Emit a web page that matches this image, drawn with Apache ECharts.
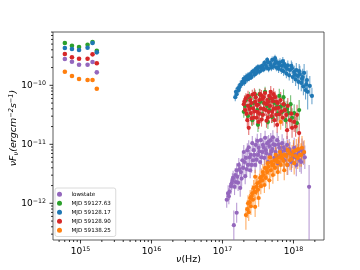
<!DOCTYPE html>
<html><head><meta charset="utf-8">
<script src="https://cdn.jsdelivr.net/npm/echarts@6/dist/echarts.min.js"></script>
<style>html,body{margin:0;padding:0;background:#fff}#c{width:360px;height:270px}</style>
</head><body><div id="c"></div>
<script>
// Legend / series
const seriesNames = ['lowstate', 'MJD 59127.63', 'MJD 59128.17', 'MJD 59128.90', 'MJD 59138.25'];
const seriesColors = ['#9467bd', '#2ca02c', '#1f77b4', '#d62728', '#ff7f0e'];

// Axis ranges (log10)
const xRangeLog = [14.613, 18.43];
const yRangeLog = [-12.622, -9.096];

// Optical/UV points: log10(nu [Hz]) and log10(nuFnu)
const opticalLogNu = [14.78, 14.88, 14.98, 15.10, 15.17, 15.23];
const opticalLowstate = [-9.554, -9.600, -9.651, -9.651, -9.605, -9.780];
const optical12763 = [-9.283, -9.329, -9.351, -9.312, -9.266, -9.414];
const optical12817 = [-9.368, -9.385, -9.402, -9.363, -9.283, -9.441];
const optical12890 = [-9.469, -9.525, -9.549, -9.549, -9.475, -9.627];
const optical13825 = [-9.770, -9.842, -9.893, -9.910, -9.910, -10.058];

// X-ray points: [log10 nu, log10 nuFnu, err up (dex), err down (dex, optional)]
const xrayLowstate = [
[17.06,-11.94,0.135],[17.08,-11.83,0.135],[17.09,-11.88,0.135],[17.12,-11.71,0.135],[17.13,-11.66,0.12],
[17.15,-11.57,0.12],[17.16,-12.37,0.25,0.6],[17.18,-11.52,0.12],[17.19,-11.64,0.12],[17.20,-12.16,0.17],
[17.20,-11.44,0.12],[17.23,-11.35,0.12],[17.25,-11.74,0.15],[17.26,-11.47,0.12],[17.28,-11.27,0.12],
[17.29,-11.40,0.12],[17.30,-11.13,0.12],[17.32,-11.54,0.135],[17.33,-11.23,0.12],[17.35,-11.10,0.12],
[17.36,-11.35,0.12],[17.37,-11.05,0.12],[17.39,-11.44,0.135],[17.40,-11.18,0.12],[17.42,-10.98,0.12],
[17.43,-11.27,0.12],[17.44,-11.10,0.12],[17.46,-11.35,0.135],[17.47,-11.01,0.12],[17.49,-10.94,0.12],
[17.50,-11.18,0.12],[17.51,-11.06,0.12],[17.53,-11.30,0.135],[17.54,-10.93,0.12],[17.56,-11.13,0.12],
[17.57,-11.01,0.12],[17.59,-11.23,0.135],[17.60,-10.89,0.12],[17.61,-11.10,0.12],[17.63,-10.98,0.12],
[17.64,-11.30,0.135],[17.66,-11.03,0.12],[17.67,-11.18,0.135],[17.68,-10.93,0.12],[17.70,-11.08,0.135],
[17.71,-10.88,0.12],[17.73,-11.23,0.135],[17.74,-11.01,0.135],[17.75,-11.13,0.135],[17.77,-10.93,0.135],
[17.78,-11.32,0.15],[17.80,-11.06,0.135],[17.82,-11.18,0.15],[17.84,-10.98,0.15],[17.87,-11.27,0.15],
[17.88,-11.10,0.15],[17.91,-11.01,0.15],[17.92,-11.35,0.17],[17.95,-11.13,0.17],[17.98,-11.23,0.17],
[18.01,-11.06,0.17],[18.04,-11.35,0.19],[18.06,-11.18,0.19],[18.09,-11.27,0.2],[18.12,-11.10,0.2],
[18.16,-11.22,0.2],[18.22,-11.72,0.37,0.9],
[17.10,-11.80,0.14],[17.14,-11.62,0.13],[17.17,-11.72,0.14],[17.21,-11.55,0.13],[17.22,-11.65,0.14],
[17.24,-11.42,0.12],[17.27,-11.58,0.13],[17.31,-11.30,0.12],[17.34,-11.42,0.13],[17.38,-11.22,0.12],
[17.41,-11.35,0.13],[17.45,-11.18,0.12],[17.48,-11.26,0.13],[17.52,-11.12,0.12],[17.55,-11.22,0.13],
[17.58,-11.05,0.12],[17.62,-11.15,0.13],[17.65,-10.96,0.12],[17.69,-11.12,0.13],[17.72,-11.00,0.13],
[17.76,-11.20,0.14],[17.79,-11.00,0.14],[17.83,-11.12,0.15],[17.86,-11.05,0.15],[17.90,-11.18,0.16],
[17.94,-11.08,0.17],[17.97,-11.30,0.17],[18.00,-11.15,0.18],[18.03,-11.22,0.19],[18.07,-11.12,0.2],
[18.11,-11.30,0.2],[18.14,-11.15,0.2]
];
const xray12763 = [
[17.30,-10.45,0.10],[17.33,-10.25,0.085],[17.36,-10.52,0.10],[17.39,-10.35,0.085],[17.42,-10.59,0.10],
[17.46,-10.16,0.085],[17.49,-10.42,0.10],[17.50,-10.67,0.12],[17.53,-10.28,0.085],[17.56,-10.49,0.10],
[17.60,-10.11,0.085],[17.63,-10.35,0.10],[17.64,-10.62,0.12],[17.67,-10.22,0.10],[17.70,-10.54,0.10],
[17.74,-10.30,0.10],[17.77,-10.37,0.12],[17.80,-10.18,0.12],[17.84,-10.45,0.12],[17.87,-10.33,0.135],
[17.89,-10.59,0.135],[17.93,-10.47,0.135],[17.96,-10.32,0.15],[18.01,-10.47,0.15],[18.05,-10.64,0.17],
[18.08,-10.42,0.17],
[17.32,-10.35,0.1],[17.38,-10.20,0.09],[17.44,-10.30,0.1],[17.52,-10.15,0.09],[17.58,-10.30,0.1],
[17.66,-10.42,0.1],[17.72,-10.28,0.1],[17.78,-10.48,0.12],[17.82,-10.36,0.12],[17.86,-10.20,0.13],
[17.91,-10.40,0.14],[17.98,-10.55,0.16]
];
const xray12817 = [
[17.18,-10.20,0.07],[17.19,-10.11,0.07],[17.22,-10.05,0.07],[17.23,-10.08,0.06],[17.25,-9.99,0.07],
[17.28,-9.94,0.06],[17.30,-9.89,0.06],[17.32,-9.91,0.05],[17.33,-9.86,0.06],[17.36,-9.83,0.05],
[17.39,-9.81,0.05],[17.40,-9.84,0.05],[17.42,-9.77,0.05],[17.44,-9.76,0.05],[17.47,-9.72,0.05],
[17.49,-9.74,0.05],[17.50,-9.69,0.05],[17.53,-9.69,0.05],[17.56,-9.67,0.05],[17.57,-9.71,0.05],
[17.59,-9.62,0.05],[17.61,-9.66,0.05],[17.63,-9.57,0.05],[17.64,-9.61,0.05],[17.67,-9.62,0.05],
[17.68,-9.66,0.05],[17.70,-9.57,0.06],[17.73,-9.64,0.06],[17.74,-9.54,0.06],[17.75,-9.59,0.06],
[17.78,-9.62,0.06],[17.80,-9.67,0.06],[17.81,-9.61,0.07],[17.84,-9.67,0.07],[17.85,-9.59,0.07],
[17.87,-9.64,0.08],[17.89,-9.69,0.08],[17.91,-9.72,0.08],[17.92,-9.66,0.08],[17.95,-9.74,0.09],
[17.97,-9.67,0.09],[17.98,-9.71,0.10],[18.01,-9.77,0.10],[18.02,-9.82,0.10],[18.04,-9.74,0.12],
[18.06,-9.84,0.12],[18.08,-9.76,0.12],[18.09,-9.81,0.14],[18.12,-9.89,0.14],[18.13,-9.86,0.14],
[18.15,-9.79,0.15],[18.18,-9.98,0.15],[18.19,-9.91,0.16],[18.20,-10.11,0.20,0.3],[18.23,-10.01,0.17],
[18.26,-10.18,0.14],
[17.20,-10.15,0.07],[17.24,-10.03,0.06],[17.27,-9.98,0.06],[17.31,-9.95,0.06],[17.35,-9.90,0.05],
[17.38,-9.88,0.05],[17.41,-9.86,0.05],[17.45,-9.82,0.05],[17.48,-9.79,0.05],[17.52,-9.77,0.05],
[17.55,-9.74,0.05],[17.58,-9.73,0.05],[17.62,-9.70,0.05],[17.65,-9.72,0.06],[17.69,-9.70,0.06],
[17.72,-9.68,0.06],[17.76,-9.70,0.06],[17.79,-9.72,0.07],[17.83,-9.74,0.07],[17.86,-9.76,0.08],
[17.90,-9.80,0.08],[17.94,-9.83,0.09],[17.99,-9.86,0.1],[18.03,-9.90,0.11],[18.07,-9.94,0.13],
[18.11,-9.96,0.14],[18.14,-10.02,0.15],[18.17,-10.08,0.16]
];
const xray12890 = [
[17.30,-10.32,0.10],[17.32,-10.42,0.10],[17.33,-10.22,0.085],[17.35,-10.59,0.12],[17.36,-10.35,0.10],
[17.37,-10.72,0.12],[17.39,-10.25,0.085],[17.40,-10.47,0.10],[17.42,-10.16,0.085],[17.43,-10.39,0.10],
[17.44,-10.55,0.12],[17.46,-10.28,0.085],[17.47,-10.20,0.085],[17.49,-10.45,0.10],[17.50,-10.33,0.10],
[17.51,-10.62,0.12],[17.53,-10.15,0.085],[17.54,-10.39,0.10],[17.56,-10.23,0.085],[17.57,-10.50,0.10],
[17.59,-10.30,0.10],[17.60,-10.13,0.085],[17.61,-10.42,0.10],[17.63,-10.25,0.10],[17.64,-10.55,0.12],
[17.66,-10.18,0.10],[17.67,-10.35,0.10],[17.68,-10.11,0.10],[17.70,-10.45,0.12],[17.71,-10.27,0.10],
[17.73,-10.59,0.12],[17.74,-10.20,0.10],[17.75,-10.39,0.12],[17.77,-10.67,0.135],[17.78,-10.30,0.12],
[17.80,-10.49,0.135],[17.82,-10.25,0.135],[17.85,-10.55,0.135],[17.88,-10.42,0.15],[17.91,-10.76,0.15],
[17.92,-10.35,0.135],[17.95,-10.59,0.15],[17.98,-10.72,0.17],[18.01,-10.62,0.17],[18.05,-10.50,0.17],
[18.08,-10.81,0.17],
[17.31,-10.27,0.1],[17.34,-10.48,0.1],[17.36,-10.18,0.09],[17.38,-10.40,0.1],[17.41,-10.30,0.1],
[17.41,-10.56,0.12],[17.45,-10.44,0.1],[17.45,-10.14,0.09],[17.48,-10.33,0.1],[17.48,-10.55,0.12],
[17.52,-10.25,0.1],[17.52,-10.48,0.1],[17.55,-10.17,0.09],[17.55,-10.58,0.12],[17.58,-10.40,0.1],
[17.58,-10.20,0.1],[17.62,-10.32,0.1],[17.62,-10.60,0.12],[17.65,-10.28,0.1],[17.65,-10.45,0.1],
[17.69,-10.22,0.1],[17.69,-10.52,0.12],[17.72,-10.40,0.12],[17.72,-10.15,0.1],[17.76,-10.28,0.12],
[17.76,-10.50,0.12],[17.79,-10.38,0.13],[17.83,-10.44,0.14],[17.86,-10.32,0.14],[17.90,-10.50,0.15],
[17.97,-10.48,0.16],[18.03,-10.70,0.17]
];
const xray13825 = [
[17.33,-12.20,0.135,0.25],[17.36,-12.00,0.135],[17.37,-12.15,0.15],[17.39,-11.91,0.135],[17.40,-12.05,0.15],
[17.42,-11.83,0.135],[17.43,-11.94,0.135],[17.44,-11.74,0.135],[17.46,-12.06,0.17],[17.46,-11.55,0.12],
[17.47,-11.81,0.135],[17.49,-11.66,0.135],[17.50,-11.77,0.135],[17.51,-11.91,0.15],[17.53,-11.57,0.135],
[17.54,-11.71,0.135],[17.56,-11.61,0.135],[17.57,-11.47,0.135],[17.59,-11.69,0.135],[17.60,-11.40,0.135],
[17.61,-11.57,0.135],[17.63,-11.47,0.135],[17.64,-11.32,0.135],[17.66,-11.61,0.15],[17.67,-11.22,0.135],
[17.68,-11.44,0.135],[17.70,-11.35,0.135],[17.71,-11.52,0.15],[17.73,-11.27,0.135],[17.74,-11.40,0.135],
[17.75,-11.18,0.135],[17.77,-11.30,0.15],[17.78,-11.47,0.15],[17.80,-11.22,0.15],[17.81,-11.13,0.15],
[17.82,-11.35,0.15],[17.82,-10.62,0.135],[17.84,-11.23,0.15],[17.87,-11.44,0.17],[17.88,-11.18,0.17],
[17.91,-11.35,0.17],[17.92,-11.10,0.17],[17.95,-11.27,0.17],[17.98,-11.18,0.17],[18.01,-11.32,0.19],
[18.04,-11.10,0.19],[18.06,-11.23,0.19],[18.09,-11.18,0.2],[18.12,-11.06,0.2],[18.15,-11.13,0.2],
[17.35,-12.10,0.15],[17.38,-11.98,0.14],[17.41,-11.88,0.14],[17.45,-11.80,0.14],[17.48,-11.72,0.14],
[17.52,-11.64,0.14],[17.55,-11.55,0.14],[17.58,-11.52,0.14],[17.62,-11.42,0.14],[17.65,-11.38,0.14],
[17.69,-11.30,0.14],[17.72,-11.35,0.15],[17.76,-11.25,0.15],[17.79,-11.30,0.15],[17.83,-11.18,0.16],
[17.86,-11.28,0.17],[17.90,-11.20,0.17],[17.94,-11.15,0.17],[17.97,-11.25,0.18],[18.00,-11.12,0.19],
[18.03,-11.20,0.19],[18.07,-11.08,0.2],[18.11,-11.18,0.2]
];

const opticalSets = [opticalLowstate, optical12763, optical12817, optical12890, optical13825];
const xraySets = [xrayLowstate, xray12763, xray12817, xray12890, xray13825];

const P = v => Math.pow(10, v);
const xMin = P(xRangeLog[0]), xMax = P(xRangeLog[1]);
const yMin = P(yRangeLog[0]), yMax = P(yRangeLog[1]);
const FONT = 'DejaVu Sans';

// tick marks (major + minor) drawn through the axes' scales
const tickData = [];
for (let n = 14; n <= 18; n++) for (let k = 1; k <= 9; k++) {
  const v = k * P(n); if (v >= xMin && v <= xMax) tickData.push([v, yMin, k === 1 ? 3.5 : 2, 0]);
}
for (let n = -13; n <= -10; n++) for (let k = 1; k <= 9; k++) {
  const v = k * P(n); if (v >= yMin && v <= yMax) tickData.push([xMin, v, k === 1 ? 3.5 : 2, 1]);
}

const series = [{
  type: 'custom', name: 'ticks', silent: true, clip: false, z: 10,
  data: tickData,
  renderItem(params, api) {
    const cs = params.coordSys;
    const p = api.coord([api.value(0), api.value(1)]);
    const len = api.value(2);
    const shape = api.value(3) === 0
      ? {x1: p[0], y1: cs.y + cs.height, x2: p[0], y2: cs.y + cs.height + len}
      : {x1: cs.x, y1: p[1], x2: cs.x - len, y2: p[1]};
    return {type: 'line', shape, style: {stroke: '#000', lineWidth: 0.8}};
  }
}];

seriesNames.forEach((name, si) => {
  const color = seriesColors[si];
  const pts = [];
  opticalLogNu.forEach((n, i) => pts.push({nu: n, f: opticalSets[si][i], up: 0.01, dn: 0.01, size: 4.6}));
  xraySets[si].forEach(p => pts.push({nu: p[0], f: p[1], up: p[2], dn: p.length > 3 ? p[3] : p[2], size: 4.2}));
  series.push({
    type: 'custom', name: name + ' err', silent: true, clip: true,
    data: pts.map(p => [P(p.nu), P(p.f), P(p.f - p.dn), P(p.f + p.up)]),
    encode: {x: 0, y: 1},
    renderItem(params, api) {
      const a = api.coord([api.value(0), api.value(2)]);
      const b = api.coord([api.value(0), api.value(3)]);
      return {type: 'line', shape: {x1: a[0], y1: a[1], x2: b[0], y2: b[1]},
        style: {stroke: color, lineWidth: 1.1, opacity: 0.65}};
    }
  });
  series.push({
    type: 'scatter', name,
    data: pts.map(p => ({value: [P(p.nu), P(p.f)], symbolSize: p.size})),
    itemStyle: {color, opacity: 1}
  });
});

const logLabel = v => {
  const l = Math.log10(v), e = Math.round(l);
  if (Math.abs(l - e) > 1e-6) return '';
  return '{b|10}{s|' + (e < 0 ? '\u2212' : '') + Math.abs(e) + '}';
};
const richTicks = {
  b: {fontSize: 9, fontFamily: FONT, color: '#000', lineHeight: 10, verticalAlign: 'bottom'},
  s: {fontSize: 6.3, fontFamily: FONT, color: '#000', lineHeight: 6, verticalAlign: 'top'}
};

const chart = echarts.init(document.getElementById('c'));
chart.setOption({
  animation: false,
  backgroundColor: '#fff',
  grid: {left: 53, right: 36, top: 32, bottom: 30, outerBoundsMode: 'none', containLabel: false,
    show: true, borderColor: '#333', borderWidth: 0.8, backgroundColor: 'transparent'},
  xAxis: {
    type: 'log', logBase: 10, min: xMin, max: xMax,
    axisLine: {show: false}, axisTick: {show: false}, splitLine: {show: false},
    axisLabel: {formatter: logLabel, rich: richTicks, margin: 6, hideOverlap: false},
    name: '{i|\u03bd}{n|(Hz)}', nameLocation: 'middle', nameGap: 15, nameMoveOverlap: false,
    nameTextStyle: {rich: {i: {fontSize: 9.5, fontFamily: FONT, fontStyle: 'italic', color: '#000'}, n: {fontSize: 9.5, fontFamily: FONT, color: '#000'}}}
  },
  yAxis: {
    type: 'log', logBase: 10, min: yMin, max: yMax,
    axisLine: {show: false}, axisTick: {show: false}, splitLine: {show: false},
    axisLabel: {formatter: logLabel, rich: richTicks, margin: 7},
    name: '{i|\u03bdF}{sb|\u03bd}{i|(ergcm}{sp|\u22122}{i|s}{sp|\u22121}{i|)}',
    nameLocation: 'middle', nameGap: 33, nameMoveOverlap: false,
    nameTextStyle: {padding: [0, 0, 0, 16], rich: {
      i: {fontSize: 9.5, fontFamily: FONT, fontStyle: 'italic', color: '#000', lineHeight: 12, verticalAlign: 'middle'},
      sb: {fontSize: 6.6, fontFamily: FONT, fontStyle: 'italic', color: '#000', lineHeight: 4, verticalAlign: 'bottom'},
      sp: {fontSize: 6.6, fontFamily: FONT, fontStyle: 'italic', color: '#000', lineHeight: 6, verticalAlign: 'top'}
    }}
  },
  legend: {
    orient: 'vertical', left: 55, top: 188, itemWidth: 14, itemHeight: 5, itemGap: 2.5,
    padding: [3, 5, 3, 2], borderColor: '#d0d0d0', borderWidth: 0.8, borderRadius: 2,
    backgroundColor: 'rgba(255,255,255,0.8)', icon: 'circle',
    textStyle: {fontSize: 5.6, fontFamily: FONT, color: '#000', lineHeight: 6.5},
    data: seriesNames
  },
  series
});
</script>
</body></html>
